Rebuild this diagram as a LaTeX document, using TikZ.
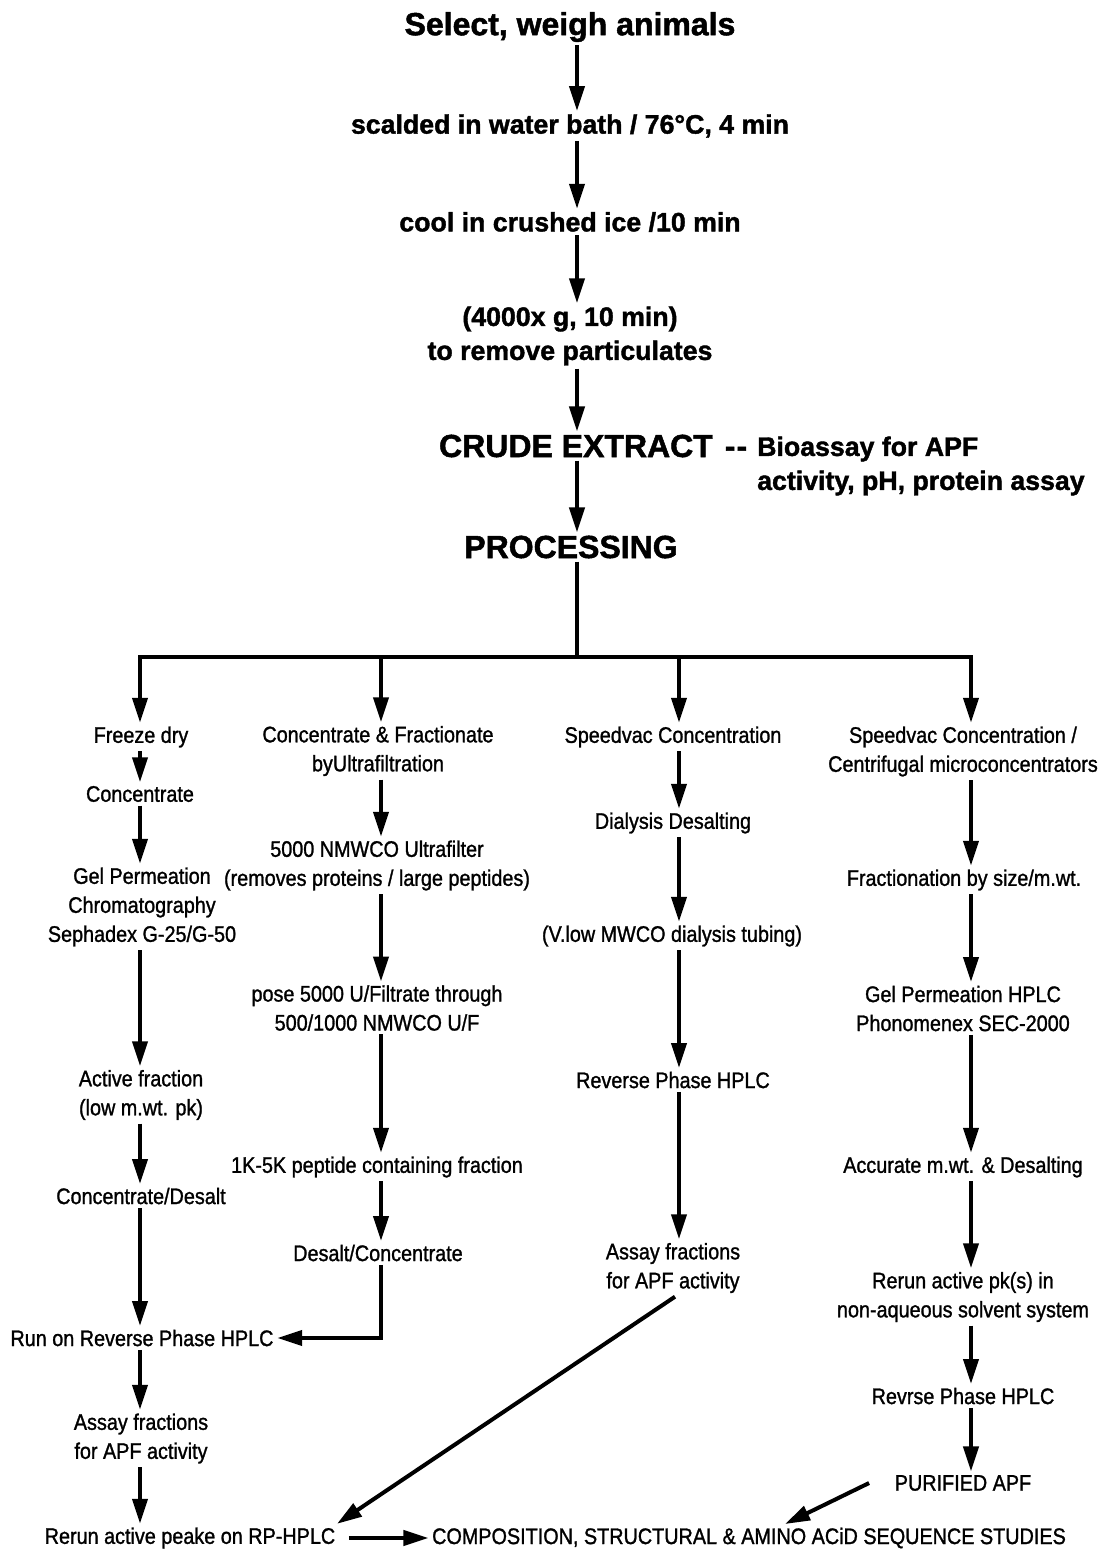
\documentclass[tikz,border=0pt]{standalone}
\usepackage{fontspec}
\setmainfont{Liberation Sans}[BoldFeatures={FakeBold=1.5}]
\newfontfamily\cf[FakeStretch=0.88,FakeBold=1.2]{Liberation Sans}
\usetikzlibrary{arrows.meta,calc}
\begin{document}
\begin{tikzpicture}[x=1pt,y=-1pt,
  arr/.style={line width=4pt,-{Triangle[length=25pt,width=15pt]}},
  ln/.style={line width=4pt},
  big/.style={font=\fontsize{32}{36}\selectfont\bfseries, inner sep=3pt},
  hd/.style={font=\fontsize{26.7}{34}\selectfont\bfseries, inner sep=3pt, align=center},
  tx/.style={font=\cf\fontsize{22.5}{29}\selectfont, inner sep=3.5pt, align=center}]
\useasboundingbox (0,0) rectangle (1100,1552);
% main spine
\coordinate (m) at (577,0);
\node[big] (t1) at (570,27) {Select, weigh animals};
\node[hd] (t2) at (570,126) {scalded in water bath / 76°C, 4 min};
\node[hd] (t3) at (570,222) {cool in crushed ice /10 min};
\node[hd] (t4) at (570,336) {(4000x g, 10 min)\\to remove particulates};
\node[big] (t5) at (576,446) {CRUDE EXTRACT};
\node[big, inner sep=0pt] (dd) at (736,452) {-\kern1pt-};
\node[hd, align=left, anchor=west, inner sep=0pt] (bio) at (757,466) {Bioassay for APF\\activity, pH, protein assay};
\node[big] (t6) at (571,547) {PROCESSING};
\draw[arr] (t1.south -| m) -- (t2.north -| m);
\draw[arr] (t2.south -| m) -- (t3.north -| m);
\draw[arr] (t3.south -| m) -- (t4.north -| m);
\draw[arr] (t4.south -| m) -- (t5.north -| m);
\draw[arr] (t5.south -| m) -- (t6.north -| m);
% branch
\coordinate (br) at (577,657);
\coordinate (k1) at (140,657);
\coordinate (k2) at (381,657);
\coordinate (k3) at (679,657);
\coordinate (k4) at (971,657);
\draw[ln] (t6.south -| m) -- (br);
\draw[ln] ([xshift=-2pt]k1) -- ([xshift=2pt]k4);
% column 1
\node[tx] (a1) at (141,737) {Freeze dry};
\node[tx] (a2) at (140,794) {Concentrate};
\node[tx] (a3) at (142,907) {Gel Permeation\\Chromatography\\Sephadex G-25/G-50};
\node[tx] (a4) at (141,1095) {Active fraction\\(low m.wt. pk)};
\node[tx] (a5) at (141,1196) {Concentrate/Desalt};
\node[tx] (a6) at (142,1338) {Run on Reverse Phase HPLC};
\node[tx] (a7) at (141,1438.5) {Assay fractions\\for APF activity};
\node[tx] (a8) at (190,1538) {Rerun active peake on RP-HPLC};
\draw[arr] (k1) -- (a1.north -| k1);
\draw[arr] (a1.south -| k1) -- (a2.north -| k1);
\draw[arr] (a2.south -| k1) -- (a3.north -| k1);
\draw[arr] (a3.south -| k1) -- (a4.north -| k1);
\draw[arr] (a4.south -| k1) -- (a5.north -| k1);
\draw[arr] (a5.south -| k1) -- (a6.north -| k1);
\draw[arr] (a6.south -| k1) -- (a7.north -| k1);
\draw[arr] (a7.south -| k1) -- (a8.north -| k1);
% column 2
\node[tx] (b1) at (378,751) {Concentrate \& Fractionate\\byUltrafiltration};
\node[tx] (b2) at (377,865.5) {5000 NMWCO Ultrafilter\\(removes proteins / large peptides)};
\node[tx] (b3) at (377,1008) {pose 5000 U/Filtrate through\\500/1000 NMWCO U/F};
\node[tx] (b4) at (377,1167) {1K-5K peptide containing fraction};
\node[tx] (b5) at (378,1253) {Desalt/Concentrate};
\draw[arr] (k2) -- (b1.north -| k2);
\draw[arr] (b1.south -| k2) -- (b2.north -| k2);
\draw[arr] (b2.south -| k2) -- (b3.north -| k2);
\draw[arr] (b3.south -| k2) -- (b4.north -| k2);
\draw[arr] (b4.south -| k2) -- (b5.north -| k2);
\draw[arr] (b5.south -| k2) |- (a6.east);
% column 3
\node[tx] (c1) at (673,737) {Speedvac Concentration};
\node[tx] (c2) at (673,823) {Dialysis Desalting};
\node[tx] (c3) at (672,936) {(V.low MWCO dialysis tubing)};
\node[tx] (c4) at (673,1080) {Reverse Phase HPLC};
\node[tx] (c5) at (673,1268) {Assay fractions\\for APF activity};
\draw[arr] (k3) -- (c1.north -| k3);
\draw[arr] (c1.south -| k3) -- (c2.north -| k3);
\draw[arr] (c2.south -| k3) -- (c3.north -| k3);
\draw[arr] (c3.south -| k3) -- (c4.north -| k3);
\draw[arr] (c4.south -| k3) -- (c5.north -| k3);
% column 4
\node[tx] (d1) at (963,751.5) {Speedvac Concentration /\\Centrifugal microconcentrators};
\node[tx] (d2) at (964,880) {Fractionation by size/m.wt.};
\node[tx] (d3) at (963,1008.5) {Gel Permeation HPLC\\Phonomenex SEC-2000};
\node[tx] (d4) at (963,1167) {Accurate m.wt. \& Desalting};
\node[tx] (d5) at (963,1297) {Rerun active pk(s) in\\non-aqueous solvent system};
\node[tx] (d6) at (963,1396) {Revrse Phase HPLC};
\node[tx] (d7) at (963,1483) {PURIFIED APF};
\draw[arr] (k4) -- (d1.north -| k4);
\draw[arr] (d1.south -| k4) -- (d2.north -| k4);
\draw[arr] (d2.south -| k4) -- (d3.north -| k4);
\draw[arr] (d3.south -| k4) -- (d4.north -| k4);
\draw[arr] (d4.south -| k4) -- (d5.north -| k4);
\draw[arr] (d5.south -| k4) -- (d6.north -| k4);
\draw[arr] (d6.south -| k4) -- (d7.north -| k4);
% bottom
\node[tx] (comp) at (749,1538) {COMPOSITION, STRUCTURAL \& AMINO ACiD SEQUENCE STUDIES};
\draw[arr] ([xshift=10pt]a8.east) -- (comp.west);
\draw[arr] ([xshift=2pt]c5.south) -- ([xshift=-2pt]a8.north east);
\draw[arr] ([xshift=-22pt]d7.west) -- ([xshift=36pt]comp.north);
\end{tikzpicture}
\end{document}
